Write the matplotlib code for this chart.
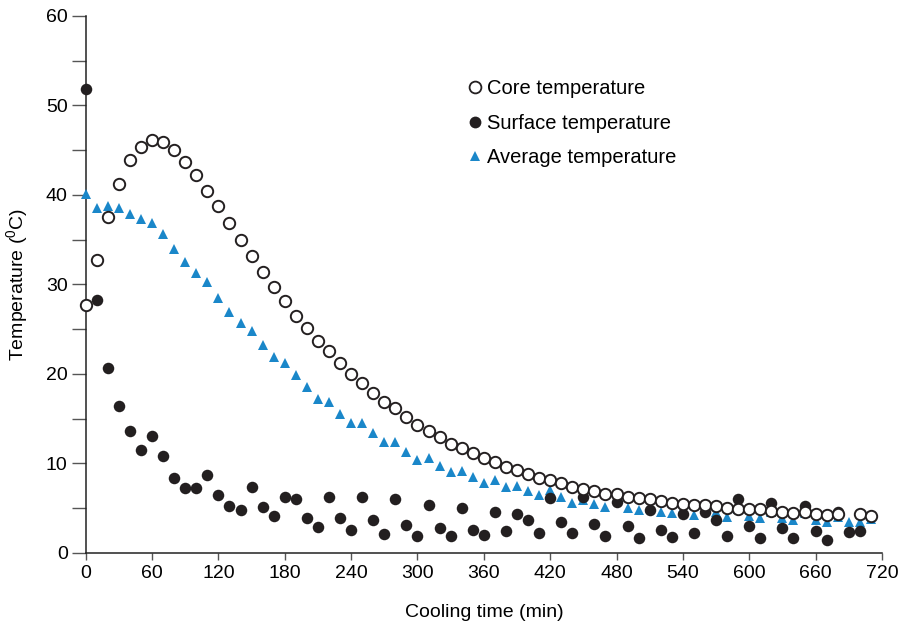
import numpy as np
import matplotlib
matplotlib.use("Agg")
import matplotlib.pyplot as plt
from matplotlib.lines import Line2D

plt.rcParams['font.family'] = ['Liberation Sans', 'DejaVu Sans']
plt.rcParams['mathtext.fontset'] = 'custom'
plt.rcParams['mathtext.rm'] = 'Liberation Sans'
plt.rcParams['mathtext.it'] = 'Liberation Sans'

time_min = np.arange(0, 720, 10)

core_temp = [27.7, 32.7, 37.5, 41.2, 43.9, 45.4, 46.1, 45.9, 45.0, 43.7,
             42.2, 40.4, 38.7, 36.8, 35.0, 33.2, 31.4, 29.7, 28.1, 26.5,
             25.1, 23.7, 22.5, 21.2, 20.0, 19.0, 17.9, 16.9, 16.2, 15.2,
             14.3, 13.6, 12.9, 12.2, 11.7, 11.1, 10.6, 10.1, 9.6, 9.25,
             8.8, 8.3, 8.1, 7.8, 7.36, 7.15, 6.9, 6.55, 6.6, 6.2,
             6.06, 5.99, 5.8, 5.6, 5.5, 5.3, 5.35, 5.2, 5.0, 4.9,
             4.85, 4.85, 4.7, 4.5, 4.4, 4.5, 4.35, 4.2, 4.3, np.nan,
             4.3, 4.1]

surface_temp = [51.8, 28.2, 20.6, 16.4, 13.6, 11.5, 13.0, 10.8, 8.3, 7.2,
                7.2, 8.7, 6.5, 5.2, 4.8, 7.4, 5.1, 4.1, 6.2, 6.0,
                3.9, 2.9, 6.2, 3.9, 2.5, 6.2, 3.7, 2.1, 6.0, 3.1,
                1.9, 5.3, 2.8, 1.9, 4.95, 2.5, 1.95, 4.5, 2.4, 4.3,
                3.7, 2.2, 6.1, 3.4, 2.2, 6.2, 3.25, 1.9, 5.65, 2.95,
                1.6, 4.8, 2.5, 1.8, 4.3, 2.15, 4.5, 3.65, 1.9, 6.0,
                3.0, 1.65, 5.55, 2.8, 1.6, 5.2, 2.4, 1.45, 4.6, 2.3,
                2.45, 4.05]

average_temp = [40.1, 38.5, 38.7, 38.5, 37.9, 37.3, 36.8, 35.6, 34.0, 32.5,
                31.3, 30.3, 28.5, 26.9, 25.7, 24.8, 23.2, 21.9, 21.2, 19.9,
                18.5, 17.2, 16.9, 15.5, 14.5, 14.5, 13.4, 12.4, 12.4, 11.3,
                10.4, 10.6, 9.7, 9.0, 9.15, 8.45, 7.75, 8.1, 7.3, 7.5,
                6.95, 6.45, 7.05, 6.2, 5.6, 5.9, 5.5, 5.15, 6.1, 5.0,
                4.72, 5.0, 4.5, 4.4, 5.0, 4.2, 4.9, 4.55, 4.0, 4.85,
                4.1, 3.85, 4.57, 3.92, 3.65, 4.4, 3.65, 3.4, 4.0, 3.46,
                3.46, 3.8]

x_ticks = list(range(0, 721, 60))
y_ticks = list(range(0, 61, 10))

labels = ["Core temperature", "Surface temperature", "Average temperature"]
blue = "#1a87c9"
black = "#231f20"

fig = plt.figure(figsize=(9.03, 6.28), dpi=100)
ax = fig.add_axes([0.0949, 0.1199, 0.8818, 0.8547])

ax.plot(time_min, average_temp, linestyle='none', marker='^', markersize=7.2,
        color=blue, markeredgewidth=0, clip_on=False, zorder=3)
ax.plot(time_min, surface_temp, linestyle='none', marker='o', markersize=8.3,
        color=black, markeredgewidth=0, clip_on=False, zorder=4)
ax.plot(time_min, core_temp, linestyle='none', marker='o', markersize=8.2,
        markerfacecolor='white', markeredgecolor=black, markeredgewidth=1.4,
        clip_on=False, zorder=5)

ax.set_xlim(0, 720)
ax.set_ylim(0, 60)
ax.set_xticks(x_ticks)
ax.set_yticks(y_ticks)
ax.set_yticks(list(range(5, 60, 10)), minor=True)

for s in ['top', 'right']:
    ax.spines[s].set_visible(False)
for s in ['left', 'bottom']:
    ax.spines[s].set_linewidth(1.1)
    ax.spines[s].set_color('#222222')

ax.tick_params(axis='y', which='both', direction='out', length=10, width=1.0,
               color='#555555', labelsize=14, pad=3)
ax.tick_params(axis='x', which='both', direction='out', length=5, width=1.0,
               color='#555555', labelsize=14, pad=4)

ax.set_xlabel("Cooling time (min)", fontsize=14, labelpad=16)
ax.set_ylabel(r"Temperature ($^{0}$C)", fontsize=14, labelpad=11)

handles = [
    Line2D([], [], linestyle='none', marker='o', markersize=8.5,
           markerfacecolor='white', markeredgecolor=black, markeredgewidth=1.3),
    Line2D([], [], linestyle='none', marker='o', markersize=8.5,
           color=black, markeredgewidth=0),
    Line2D([], [], linestyle='none', marker='^', markersize=6.5,
           color=blue, markeredgewidth=0),
]
fig.legend(handles, labels, loc='upper left', bbox_to_anchor=(0.5065, 0.887),
           frameon=False, fontsize=14.5, handletextpad=0.05, labelspacing=0.78,
           handlelength=1.0, borderaxespad=0)

fig.savefig("out.png", dpi=100)
